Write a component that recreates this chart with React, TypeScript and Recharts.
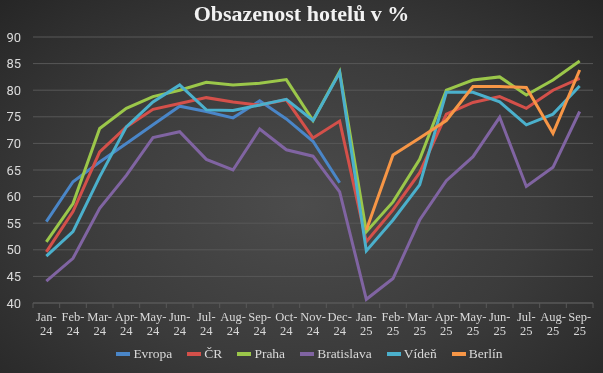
import React from 'react';
import { LineChart, Line, XAxis, YAxis, CartesianGrid } from 'recharts';

const months = [
  'Jan-24', 'Feb-24', 'Mar-24', 'Apr-24', 'May-24', 'Jun-24', 'Jul-24', 'Aug-24', 'Sep-24', 'Oct-24', 'Nov-24', 'Dec-24',
  'Jan-25', 'Feb-25', 'Mar-25', 'Apr-25', 'May-25', 'Jun-25', 'Jul-25', 'Aug-25', 'Sep-25',
];

const evropa = [55.3, 62.8, 66.5, 70.0, 73.5, 77.0, 76.0, 74.8, 78.0, 74.6, 70.4, 62.6, null, null, null, null, null, null, null, null, null];
const cr = [49.6, 57.2, 68.4, 73.1, 76.4, 77.5, 78.6, 77.8, 77.2, 78.2, 71.0, 74.2, 51.5, 57.5, 64.5, 75.5, 77.7, 78.8, 76.6, 80.0, 82.2];
const praha = [51.5, 58.7, 72.8, 76.6, 78.8, 80.0, 81.5, 81.0, 81.3, 82.0, 74.3, 83.5, 53.4, 59.0, 67.0, 80.0, 81.9, 82.5, 79.1, 81.9, 85.5];
const bratislava = [44.1, 48.4, 57.8, 64.0, 71.1, 72.2, 67.0, 65.0, 72.7, 68.8, 67.6, 60.9, 40.7, 44.6, 55.6, 63.0, 67.5, 74.9, 61.9, 65.5, 76.0];
const viden = [48.8, 53.4, 63.7, 73.1, 77.8, 81.0, 76.3, 76.2, 77.2, 78.3, 74.3, 83.3, 49.8, 55.6, 62.2, 79.6, 79.6, 77.8, 73.5, 75.5, 80.8];
const berlin = [null, null, null, null, null, null, null, null, null, null, null, null, 53.7, 67.8, 71.0, 74.3, 80.7, 80.7, 80.5, 71.9, 83.8];

const yTicks = [40, 45, 50, 55, 60, 65, 70, 75, 80, 85, 90];

const series = [
  { key: 'evropa', name: 'Evropa', color: '#4a86c8' },
  { key: 'cr', name: 'ČR', color: '#d4504a' },
  { key: 'praha', name: 'Praha', color: '#9bc74a' },
  { key: 'bratislava', name: 'Bratislava', color: '#8064a2' },
  { key: 'viden', name: 'Vídeň', color: '#4bb0cc' },
  { key: 'berlin', name: 'Berlín', color: '#f79646' },
];

const data = months.map((m, i) => ({
  month: m,
  evropa: evropa[i],
  cr: cr[i],
  praha: praha[i],
  bratislava: bratislava[i],
  viden: viden[i],
  berlin: berlin[i],
}));

const serif = '"Liberation Serif", "DejaVu Serif", serif';
const textColor = '#d9d9d9';
const gridColor = '#585858';
const half = 560 / 21 / 2;

const MonthTick = (props: any) => {
  const { x, y, payload, index } = props;
  const [mon, yr] = String(payload.value).split('-');
  return (
    <g>
      <line x1={x - half} y1={y - 8} x2={x - half} y2={y - 3} stroke={gridColor} />
      {index === months.length - 1 && (
        <line x1={x + half} y1={y - 8} x2={x + half} y2={y - 3} stroke={gridColor} />
      )}
      <text x={x} y={y + 10} textAnchor="middle" fill={textColor} fontSize={12.5} fontFamily={serif}>
        {mon + '-'}
      </text>
      <text x={x} y={y + 24} textAnchor="middle" fill={textColor} fontSize={12.5} fontFamily={serif}>
        {yr}
      </text>
    </g>
  );
};

const App = () => {
  return (
    <div
      style={{
        position: 'fixed',
        top: 0,
        left: 0,
        width: 603,
        height: 373,
        background: 'radial-gradient(ellipse at 50% 55%, #4c4c4c 0%, #3b3b3b 55%, #262626 100%)',
      }}
    >
      <div
        style={{
          position: 'absolute',
          top: 1,
          left: 0,
          width: 603,
          textAlign: 'center',
          fontFamily: serif,
          fontWeight: 'bold',
          fontSize: 22,
          color: '#f2f2f2',
          lineHeight: '26px',
        }}
      >
        Obsazenost hotelů v %
      </div>
      <LineChart width={603} height={373} data={data} margin={{ top: 37, right: 10, bottom: 30, left: 0 }}>
        <CartesianGrid vertical={false} stroke={gridColor} strokeWidth={1} />
        <XAxis
          dataKey="month"
          interval={0}
          tick={<MonthTick />}
          tickLine={false}
          axisLine={{ stroke: gridColor }}
          padding={{ left: half, right: half }}
          height={40}
        />
        <YAxis
          domain={[40, 90]}
          ticks={yTicks}
          width={33}
          axisLine={false}
          tickLine={false}
          tick={{ fill: textColor, fontSize: 13, fontFamily: 'Roboto, sans-serif' }}
          tickMargin={6}
        />
        {series.map((s) => (
          <Line
            key={s.key}
            type="linear"
            dataKey={s.key}
            name={s.name}
            stroke={s.color}
            strokeWidth={3}
            dot={false}
            isAnimationActive={false}
          />
        ))}
      </LineChart>
      <div
        style={{
          position: 'absolute',
          top: 346,
          left: 0,
          width: 603,
          paddingLeft: 16,
          boxSizing: 'border-box',
          display: 'flex',
          justifyContent: 'center',
          gap: 15,
          fontFamily: serif,
          fontSize: 13.5,
          color: textColor,
        }}
      >
        {series.map((s) => (
          <div key={s.key} style={{ display: 'flex', alignItems: 'center' }}>
            <span style={{ display: 'inline-block', width: 14, height: 4, background: s.color, marginRight: 3 }}></span>
            <span>{s.name}</span>
          </div>
        ))}
      </div>
    </div>
  );
};

export default App;
